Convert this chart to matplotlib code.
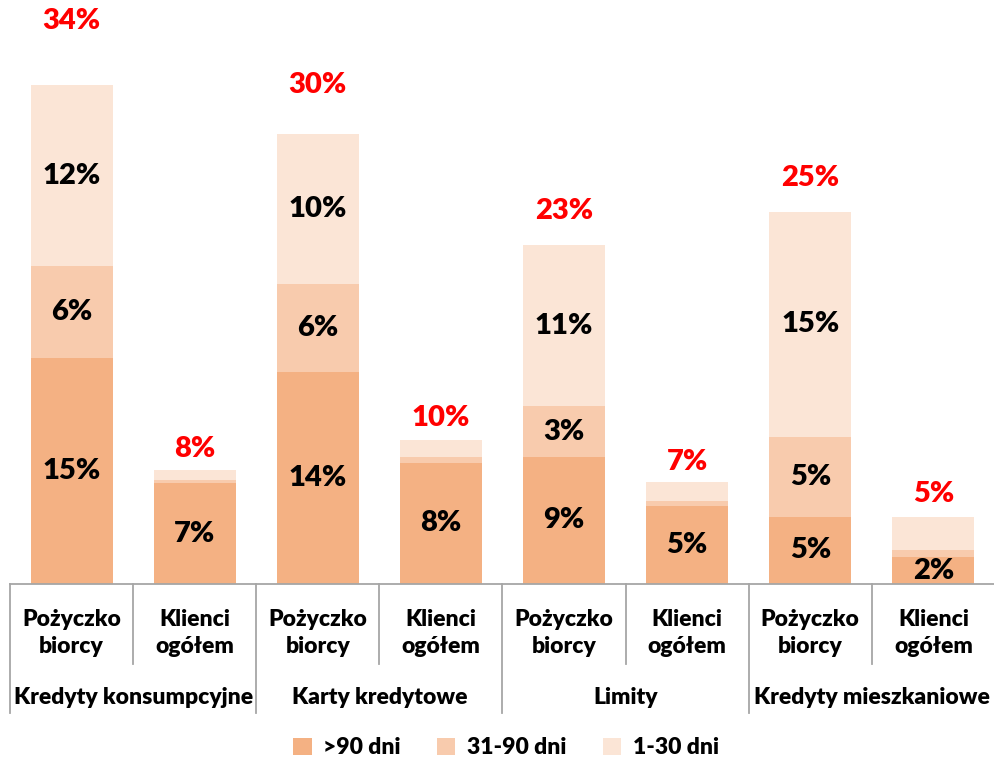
import matplotlib
matplotlib.use("Agg")
import matplotlib.pyplot as plt
import matplotlib.transforms as mtransforms
from matplotlib.patches import Patch

plt.rcParams['font.family'] = ['Lato', 'DejaVu Sans']
plt.rcParams['font.weight'] = 'heavy'

groups = ["Kredyty konsumpcyjne", "Karty kredytowe", "Limity", "Kredyty mieszkaniowe"]
subcats = ["Pożyczko\nbiorcy", "Klienci\nogółem"]
series_names = [">90 dni", "31-90 dni", "1-30 dni"]

over90 = [15.3, 6.8, 14.3, 8.2, 8.6, 5.3, 4.55, 1.8]
d31_90 = [6.2, 0.2, 6.0, 0.4, 3.4, 0.3, 5.4, 0.5]
d1_30 = [12.2, 0.7, 10.1, 1.1, 10.9, 1.3, 15.2, 2.25]
show_segment_labels = [True, False, True, False, True, False, True, False]

colors = ["#F4B183", "#F8CBAD", "#FBE5D6"]
total_label_offset_pt = [46, 15, 35, 16, 24.5, 14.5, 24.5, 16.5]
FW = 'heavy'
PX_PER_PCT = 14.8

fig = plt.figure(figsize=(9.95, 7.6), dpi=100)
ax = fig.add_axes([10 / 995, 176 / 760, 985 / 995, 584 / 760])
n = len(over90)
x = [i + 0.5 for i in range(n)]
w = 0.667
series = [over90, d31_90, d1_30]
bottoms = [0.0] * n
for s, vals in enumerate(series):
    ax.bar(x, vals, w, bottom=bottoms, color=colors[s], edgecolor='none', zorder=2)
    for i in range(n):
        show = show_segment_labels[i] or s == 0
        if show:
            ax.text(x[i], bottoms[i] + vals[i] / 2, f"{round(vals[i]):d}%", ha='center', va='center',
                    fontsize=21, fontweight=FW, color='black', zorder=3)
    bottoms = [b + v for b, v in zip(bottoms, vals)]

for i in range(n):
    ax.annotate(f"{round(bottoms[i]):d}%", xy=(x[i], bottoms[i]), xytext=(0, total_label_offset_pt[i]),
                textcoords='offset points', ha='center', va='center', fontsize=21,
                fontweight=FW, color='#FF0000', annotation_clip=False)

ax.set_xlim(0, n)
ax.set_ylim(0, 584 / PX_PER_PCT)
for sp in ax.spines.values():
    sp.set_visible(False)
ax.set_xticks([])
ax.set_yticks([])

trans = mtransforms.blended_transform_factory(ax.transData, fig.transFigure)
def fy(py):
    return (760 - py) / 760

line_kw = dict(color='#A6A6A6', lw=1.3, transform=trans, clip_on=False)
ax.plot([0, n], [fy(584), fy(584)], **line_kw)
for i in range(n + 1):
    if i % 2 == 0:
        ax.plot([i, i], [fy(584), fy(713)], **line_kw)
    else:
        ax.plot([i, i], [fy(584), fy(664)], **line_kw)

for i in range(n):
    ax.text(x[i], fy(633), subcats[i % 2], ha='center', va='center', fontsize=16.5,
            fontweight=FW, transform=trans, linespacing=1.4)
for g, name in enumerate(groups):
    ax.text(2 * g + 1, fy(697), name, ha='center', va='center', fontsize=16.5,
            fontweight=FW, transform=trans)

handles = [Patch(facecolor=c, edgecolor='none') for c in colors]
fig.legend(handles, series_names, loc='center', bbox_to_anchor=(506 / 995, fy(748)), ncol=3,
           frameon=False, handlelength=0.8, handleheight=0.8, columnspacing=1.6,
           handletextpad=0.5, prop={'weight': FW, 'size': 16.5})

fig.savefig("out.png", dpi=100)
